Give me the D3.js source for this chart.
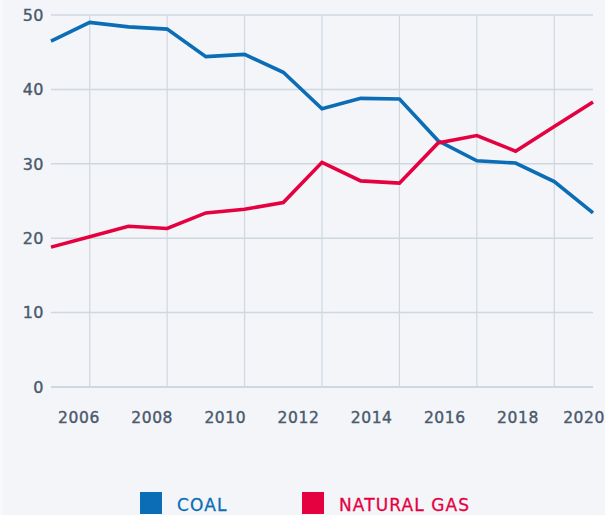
<!DOCTYPE html>
<html>
<head>
<meta charset="utf-8">
<script src="https://cdn.jsdelivr.net/npm/d3@7"></script>
<style>
  html, body { margin: 0; padding: 0; background: #f3f5f9; }
  svg { display: block; }
  text { font-family: "DejaVu Sans", sans-serif; }
</style>
</head>
<body>
<div id="chart"></div>
<script>
// data
const years = [2005, 2006, 2007, 2008, 2009, 2010, 2011, 2012, 2013, 2014, 2015, 2016, 2017, 2018, 2019]
const coal = [46.5, 49.0, 48.4, 48.1, 44.4, 44.7, 42.3, 37.4, 38.8, 38.7, 33.1, 30.4, 30.1, 27.6, 23.4]
const gas = [18.8, 20.2, 21.6, 21.3, 23.4, 23.9, 24.8, 30.2, 27.7, 27.4, 32.8, 33.8, 31.7, 35.0, 38.3]
const yTicks = [0, 10, 20, 30, 40, 50]
const xTickLabels = [2006, 2008, 2010, 2012, 2014, 2016, 2018, 2020]
const gridYears = [2006, 2008, 2010, 2012, 2014, 2016, 2018]
const series = [
    { name: 'COAL', values: coal, color: '#0a6db5' },
    { name: 'NATURAL GAS', values: gas, color: '#e5003f' }
]

const width = 605
const height = 515
const textColor = '#4b5a6b'
const gridColor = '#cfd7df'

const svg = d3.select('#chart')
    .append('svg')
    .attr('width', width)
    .attr('height', height)

svg.append('rect')
    .attr('width', width)
    .attr('height', height)
    .attr('fill', '#f3f5f9')
svg.append('rect')
    .attr('width', 3)
    .attr('height', height)
    .attr('fill', '#f8f9fb')

const x = d3.scaleLinear().domain([2005, 2019]).range([51, 593])
const y = d3.scaleLinear().domain([0, 50]).range([387, 15])
// the tick labels sit on their own, slightly tighter spacing
const xLabel = d3.scaleLinear().domain([2006, 2018]).range([79, 518])

// horizontal grid
svg.append('g')
    .selectAll('line')
    .data(yTicks)
    .enter().append('line')
    .attr('x1', x(2005))
    .attr('x2', x(2019))
    .attr('y1', d => y(d))
    .attr('y2', d => y(d))
    .attr('stroke', gridColor)
    .attr('stroke-width', d => d === 0 ? 2 : 1.5)

// vertical grid
svg.append('g')
    .selectAll('line')
    .data(gridYears)
    .enter().append('line')
    .attr('x1', d => x(d))
    .attr('x2', d => x(d))
    .attr('y1', y(50))
    .attr('y2', y(0))
    .attr('stroke', gridColor)
    .attr('stroke-width', 1.2)

// y labels
svg.append('g')
    .selectAll('text')
    .data(yTicks)
    .enter().append('text')
    .attr('x', 44)
    .attr('y', d => y(d))
    .attr('dy', '0.36em')
    .attr('text-anchor', 'end')
    .attr('fill', textColor)
    .attr('stroke', textColor)
    .attr('stroke-width', 0.4)
    .attr('font-size', 16)
    .attr('letter-spacing', 0.5)
    .text(d => d)

// x labels, last one pushed inside the frame
svg.append('g')
    .selectAll('text')
    .data(xTickLabels)
    .enter().append('text')
    .attr('x', d => xLabel(d))
    .attr('y', 423)
    .attr('text-anchor', 'middle')
    .attr('fill', textColor)
    .attr('stroke', textColor)
    .attr('stroke-width', 0.4)
    .attr('font-size', 15.5)
    .attr('letter-spacing', 0.6)
    .text(d => d)
    .each(function () {
        const bb = this.getBBox()
        if (bb.x + bb.width > width) {
            d3.select(this).attr('x', width - bb.width / 2)
        }
    })

// lines
const line = d3.line()
    .x((d, i) => x(years[i]))
    .y(d => y(d))

svg.append('g')
    .selectAll('path')
    .data(series)
    .enter().append('path')
    .attr('d', d => line(d.values))
    .attr('fill', 'none')
    .attr('stroke', d => d.color)
    .attr('stroke-width', 3.6)
    .attr('stroke-linejoin', 'miter')

// legend
const legend = svg.append('g')
    .selectAll('g')
    .data(series)
    .enter().append('g')
    .attr('transform', (d, i) => `translate(${i === 0 ? 140 : 302}, 492)`)
legend.append('rect')
    .attr('width', 22)
    .attr('height', 22)
    .attr('fill', d => d.color)
legend.append('text')
    .attr('x', 37)
    .attr('y', 19)
    .attr('fill', d => d.color)
    .attr('stroke', d => d.color)
    .attr('stroke-width', 0.3)
    .attr('font-size', 17)
    .attr('letter-spacing', 1.1)
    .text(d => d.name)
</script>
</body>
</html>
